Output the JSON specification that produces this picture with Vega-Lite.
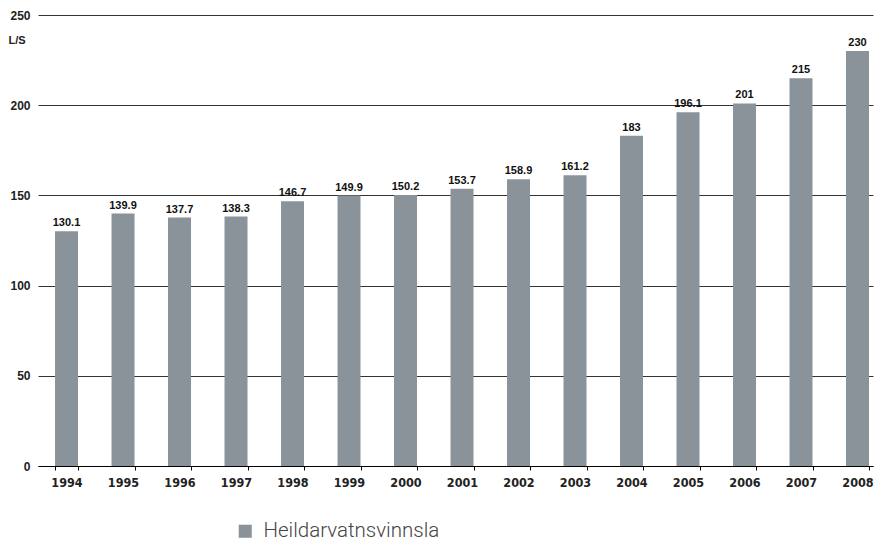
{
  "$schema": "https://vega.github.io/schema/vega-lite/v6.json",
  "autosize": "none",
  "padding": {"left": 38, "top": 15, "right": 5, "bottom": 77},
  "width": 835,
  "height": 451,
  "background": "white",
  "config": {"view": {"stroke": null}},
  "data": {"values": [
    {"year": "1994", "value": 130.1, "label": "130.1", "series": "Heildarvatnsvinnsla"},
    {"year": "1995", "value": 139.9, "label": "139.9", "series": "Heildarvatnsvinnsla"},
    {"year": "1996", "value": 137.7, "label": "137.7", "series": "Heildarvatnsvinnsla"},
    {"year": "1997", "value": 138.3, "label": "138.3", "series": "Heildarvatnsvinnsla"},
    {"year": "1998", "value": 146.7, "label": "146.7", "series": "Heildarvatnsvinnsla"},
    {"year": "1999", "value": 149.9, "label": "149.9", "series": "Heildarvatnsvinnsla"},
    {"year": "2000", "value": 150.2, "label": "150.2", "series": "Heildarvatnsvinnsla"},
    {"year": "2001", "value": 153.7, "label": "153.7", "series": "Heildarvatnsvinnsla"},
    {"year": "2002", "value": 158.9, "label": "158.9", "series": "Heildarvatnsvinnsla"},
    {"year": "2003", "value": 161.2, "label": "161.2", "series": "Heildarvatnsvinnsla"},
    {"year": "2004", "value": 183, "label": "183", "series": "Heildarvatnsvinnsla"},
    {"year": "2005", "value": 196.1, "label": "196.1", "series": "Heildarvatnsvinnsla"},
    {"year": "2006", "value": 201, "label": "201", "series": "Heildarvatnsvinnsla"},
    {"year": "2007", "value": 215, "label": "215", "series": "Heildarvatnsvinnsla"},
    {"year": "2008", "value": 230, "label": "230", "series": "Heildarvatnsvinnsla"}
  ]},
  "encoding": {
    "x": {
      "field": "year", "type": "nominal", "sort": null,
      "scale": {"paddingInner": 0.593, "paddingOuter": 0.186, "align": 0.81},
      "axis": {
        "title": null, "labelAngle": 0, "tickBand": "extent",
        "domainColor": "#000000", "domainWidth": 1.2,
        "tickColor": "#000000", "tickSize": 4, "tickWidth": 1,
        "labelFont": "DejaVu Sans Condensed, DejaVu Sans", "labelFontSize": 12.5, "labelFontWeight": "bold",
        "labelColor": "#222222", "labelPadding": 6, "grid": false
      }
    },
    "y": {
      "field": "value", "type": "quantitative",
      "scale": {"domain": [0, 250], "nice": false},
      "axis": {
        "values": [0, 50, 100, 150, 200, 250],
        "title": "L/S", "titleAngle": 0, "titleX": -30, "titleY": 25,
        "titleAlign": "left", "titleBaseline": "middle",
        "titleFont": "Liberation Sans", "titleFontSize": 11, "titleFontWeight": "bold", "titleColor": "#222222",
        "domain": false, "ticks": false,
        "grid": true, "gridColor": "#333333", "gridWidth": 1,
        "labelFont": "Liberation Sans", "labelFontSize": 12, "labelFontWeight": "bold",
        "labelColor": "#222222", "labelPadding": 8
      }
    }
  },
  "layer": [
    {
      "mark": {"type": "bar", "color": "#8b939a"},
      "encoding": {
        "color": {
          "field": "series", "type": "nominal",
          "scale": {"range": ["#8b939a"]},
          "legend": {
            "title": null, "orient": "none", "legendX": 197, "legendY": 506,
            "symbolType": "square", "symbolSize": 170, "symbolStrokeWidth": 0,
            "labelFont": "Roboto", "labelFontSize": 20.5, "labelFontWeight": 300, "labelColor": "#444444",
            "labelOffset": 8, "labelLimit": 400
          }
        }
      }
    },
    {
      "mark": {"type": "text", "dy": -8, "font": "Liberation Sans", "fontSize": 11, "fontWeight": "bold", "color": "#111111"},
      "encoding": {"text": {"field": "label"}}
    }
  ]
}
